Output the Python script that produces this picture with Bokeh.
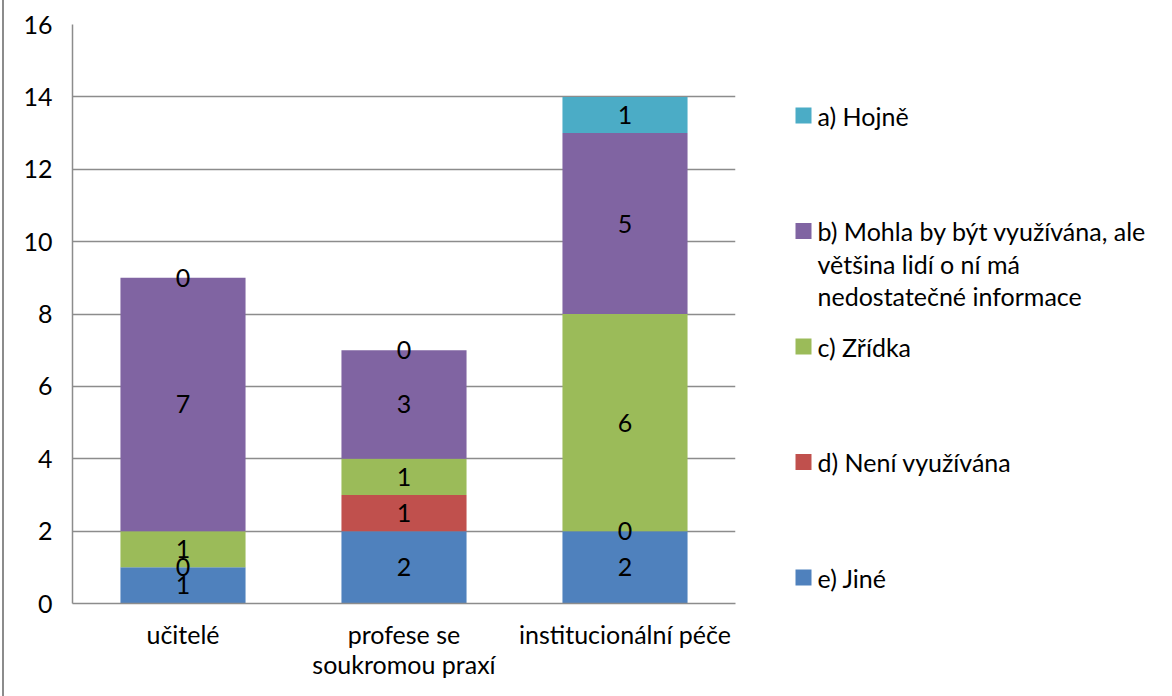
from bokeh.plotting import figure
from bokeh.models import FactorRange, Range1d, FixedTicker, ColumnDataSource
from bokeh.layouts import row
from bokeh.core.properties import value
from bokeh.embed import file_html
from bokeh.resources import INLINE

# ---- data ----
categories = ["učitelé", "profese se\nsoukromou praxí", "institucionální péče"]
series_keys = ["e", "d", "c", "b", "a"]  # bottom -> top
series_labels = {
    "a": "a) Hojně",
    "b": "b) Mohla by být využívána, ale\nvětšina lidí o ní má\nnedostatečné informace",
    "c": "c) Zřídka",
    "d": "d) Není využívána",
    "e": "e) Jiné",
}
a_hojne = [0, 0, 1]
b_mohla = [7, 3, 5]
c_zridka = [1, 1, 6]
d_neni = [0, 1, 0]
e_jine = [1, 2, 2]
y_ticks = [0, 2, 4, 6, 8, 10, 12, 14, 16]
colors = {"a": "#4BACC6", "b": "#8064A2", "c": "#9BBB59", "d": "#C0504D", "e": "#4F81BD"}
legend_order = ["a", "b", "c", "d", "e"]

FONT = "Lato"
FS = "25px"
GRID = "#8c8c8c"

values = {"a": a_hojne, "b": b_mohla, "c": c_zridka, "d": d_neni, "e": e_jine}
data = dict(cat=categories, **values)
src = ColumnDataSource(data)

p = figure(x_range=FactorRange(*categories), y_range=Range1d(0, 16),
           width=756, height=696, output_backend="svg", toolbar_location=None,
           min_border_left=68, min_border_right=25, min_border_top=24, min_border_bottom=93)
p.outline_line_color = None
p.styles = {"border-left": "2px solid #8c8c8c", "margin-left": "2px"}

p.vbar_stack(series_keys, x="cat", width=0.566, source=src,
             color=[colors[k] for k in series_keys], line_color=None)

# value labels at segment centres
lx, ly, lt = [], [], []
for i, c in enumerate(categories):
    base = 0
    for k in series_keys:
        v = values[k][i]
        lx.append(c)
        ly.append(base + v / 2)
        lt.append(str(v))
        base += v
p.text(x=lx, y=ly, text=lt, text_align="center", text_baseline="middle",
       text_font=value(FONT), text_font_size=FS, text_color="black")

p.yaxis.ticker = FixedTicker(ticks=y_ticks)
p.ygrid.ticker = FixedTicker(ticks=y_ticks)
p.xgrid.grid_line_color = None
p.ygrid.grid_line_color = GRID
p.ygrid.grid_line_width = 1.5
for ax in (p.xaxis, p.yaxis):
    ax.axis_line_color = GRID
    ax.axis_line_width = 1.5
    ax.major_tick_line_color = None
    ax.minor_tick_line_color = None
    ax.major_label_text_font = FONT
    ax.major_label_text_font_size = FS
    ax.major_label_text_color = "black"
p.yaxis.major_label_standoff = 14
p.xaxis.major_label_standoff = 9
p.xaxis.major_label_text_line_height = 1.0

# ---- legend panel (layout coordinates = window pixels) ----
leg = figure(width=412, height=696, x_range=Range1d(760, 1172), y_range=Range1d(603, 24),
             output_backend="svg", toolbar_location=None,
             min_border_left=0, min_border_right=0, min_border_top=24, min_border_bottom=93)
leg.axis.visible = False
leg.grid.visible = False
leg.outline_line_color = None
sx, sy, sc, tx, ty, tt = [], [], [], [], [], []
for i, k in enumerate(legend_order):
    yc = 115 + i * 115.5
    sx.append(805); sy.append(yc); sc.append(colors[k])
    for j, line in enumerate(series_labels[k].split("\n")):
        tx.append(819); ty.append(yc + j * 32.5); tt.append(line)
leg.rect(x=sx, y=sy, width=16, height=16, color=sc, line_color=None)
leg.text(x=tx, y=ty, text=tt, text_align="left", text_baseline="middle",
         text_font=value(FONT), text_font_size=FS, text_color="black")

layout = row(p, leg)
open("out.html", "w").write(file_html(layout, INLINE))
